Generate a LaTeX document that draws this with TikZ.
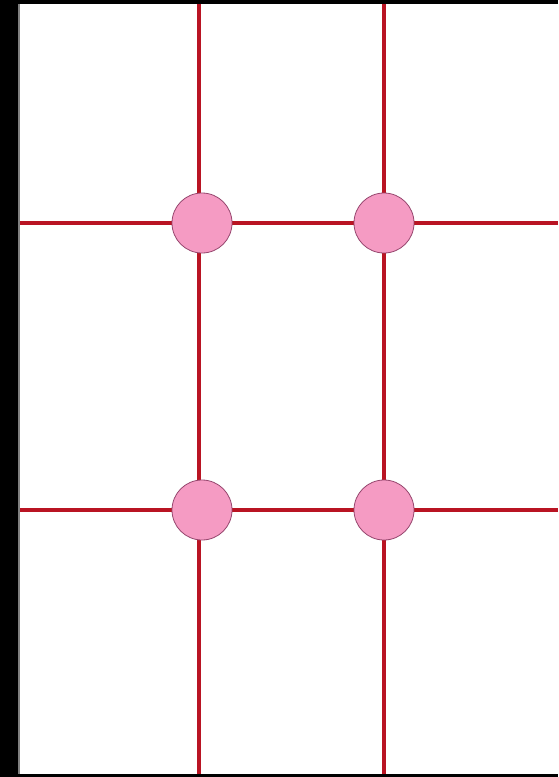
\documentclass[tikz,border=0pt]{standalone}
\definecolor{gridred}{RGB}{185,20,35}
\definecolor{dotpink}{RGB}{245,155,195}
\definecolor{dotrim}{RGB}{150,70,110}
\tikzset{
  gridline/.style={draw=gridred,line width=4.5pt},
  dot/.style={circle,fill=dotpink,draw=dotrim,line width=0.8pt,minimum size=60pt,inner sep=0pt}
}
\begin{document}
\begin{tikzpicture}[x=1pt,y=-1pt]
\useasboundingbox (0,0) rectangle (558,777);
\fill[white] (0,0) rectangle (558,777);
\fill[black] (0,0) rectangle (18,777);
\fill[black] (0,0) rectangle (558,4);
\fill[black] (0,774) rectangle (558,777);
\draw[gray,line width=1.5pt] (19,4) -- (19,774);
% line ends
\coordinate (t1) at (199,4);
\coordinate (b1) at (199,774);
\coordinate (t2) at (384,4);
\coordinate (b2) at (384,774);
\coordinate (l1) at (20,223);
\coordinate (r1) at (558,223);
\coordinate (l2) at (20,510);
\coordinate (r2) at (558,510);
\draw[gridline] (t1) -- (b1);
\draw[gridline] (t2) -- (b2);
\draw[gridline] (l1) -- (r1);
\draw[gridline] (l2) -- (r2);
\node[dot] (d11) at (202,223) {};
\node[dot] (d12) at (384,223) {};
\node[dot] (d21) at (202,510) {};
\node[dot] (d22) at (384,510) {};
\end{tikzpicture}
\end{document}
